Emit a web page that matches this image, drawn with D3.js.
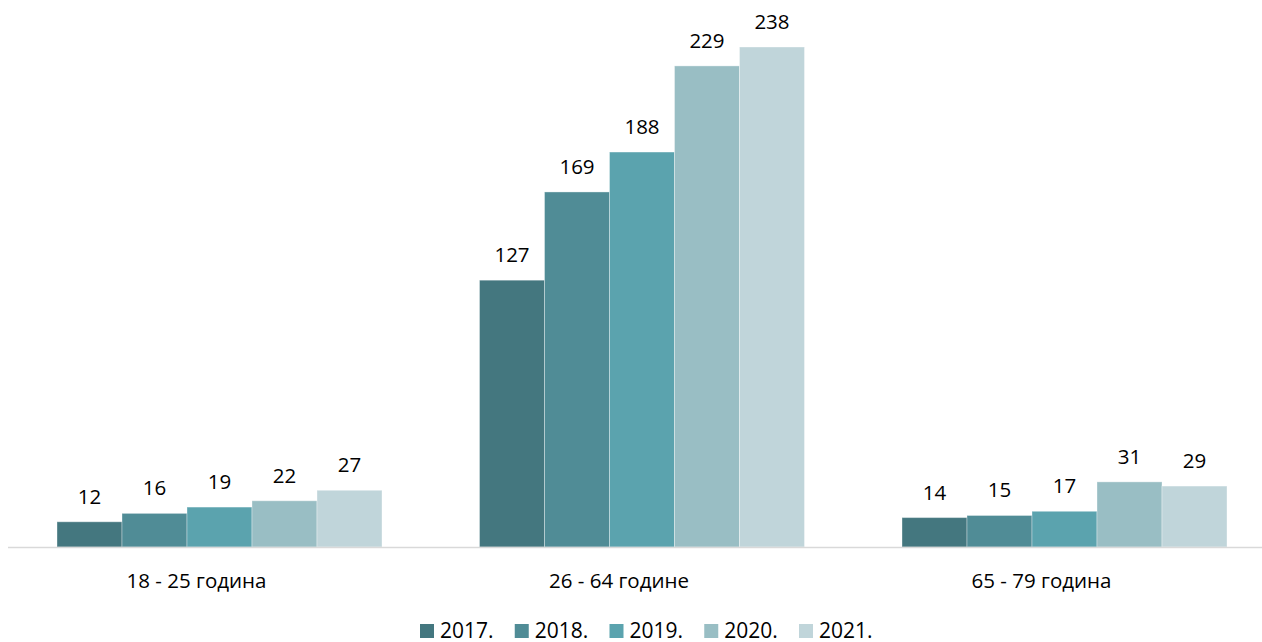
<!DOCTYPE html>
<html><head><meta charset="utf-8">
<script src="https://cdn.jsdelivr.net/npm/d3@7"></script>
<style>body{margin:0;background:#fff}svg{display:block}text{font-family:"Open Sans",sans-serif;fill:#000}</style>
</head><body><svg id="c" width="1262" height="642"></svg>
<script>
const categories = ["18 - 25 година", "26 - 64 године", "65 - 79 година"];
const years = ["2017.", "2018.", "2019.", "2020.", "2021."];
const values = {
  "2017.": [12, 127, 14],
  "2018.": [16, 169, 15],
  "2019.": [19, 188, 17],
  "2020.": [22, 229, 31],
  "2021.": [27, 238, 29]
};
const colors = ["#44777f", "#508c96", "#5ba3ae", "#99bec4", "#c0d5da"];

const svg = d3.select("#c");
const base = 547;
const y = d3.scaleLinear().domain([0, 238]).range([base, 47]);
const x0 = d3.scaleBand().domain(categories).range([8.25, 1275.75]).paddingInner(0.2308).paddingOuter(0.1154);
const x1 = d3.scaleBand().domain(years).range([0, x0.bandwidth()]);
const color = d3.scaleOrdinal().domain(years).range(colors);

const g = svg.append("g");
categories.forEach((c, ci) => {
  const gg = g.append("g").attr("transform", `translate(${x0(c)},0)`);
  years.forEach(yr => {
    const v = values[yr][ci];
    gg.append("rect").attr("x", x1(yr)).attr("y", y(v)).attr("width", x1.bandwidth()).attr("height", base - y(v))
      .attr("fill", color(yr)).attr("stroke", "#ffffff").attr("stroke-opacity", 0.35).attr("stroke-width", 1);
    gg.append("text").attr("x", x1(yr) + x1.bandwidth() / 2).attr("y", y(v) - 18)
      .attr("text-anchor", "middle").attr("font-size", 20.5).text(v);
  });
});

svg.append("line").attr("x1", 8).attr("x2", 1262).attr("y1", base + 0.5).attr("y2", base + 0.5)
  .attr("stroke", "#d9d9d9").attr("stroke-width", 1.5);

const xAxis = svg.append("g").attr("transform", `translate(0,${base})`)
  .call(d3.axisBottom(x0).tickSize(0).tickPadding(0));
xAxis.select(".domain").remove();
xAxis.selectAll("text").attr("y", 41).attr("dy", null).attr("x", -23)
  .attr("font-size", 20.5).attr("font-family", "Open Sans").attr("fill", "#000");

const legX = d3.scalePoint().domain(years).range([420, 799]);
const leg = svg.append("g");
years.forEach(yr => {
  leg.append("rect").attr("x", legX(yr)).attr("y", 624).attr("width", 14).attr("height", 14).attr("fill", color(yr));
  leg.append("text").attr("x", legX(yr) + 20).attr("y", 637.5).attr("font-size", 21).text(yr);
});
</script></body></html>
